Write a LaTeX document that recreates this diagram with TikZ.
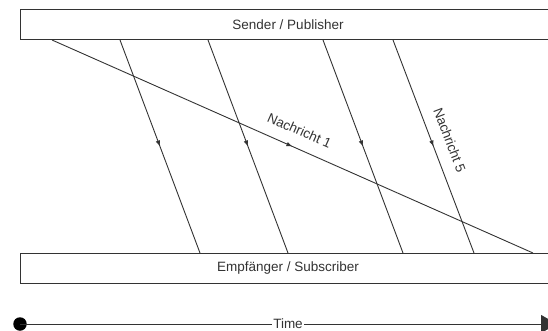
\documentclass[tikz,border=0pt]{standalone}
\usepackage{fontspec}
\setmainfont{Liberation Sans}
\usetikzlibrary{arrows.meta,decorations.markings}

\definecolor{ink}{HTML}{333333}

\tikzset{
  lane/.style={draw=ink, line width=1pt, fill=white, inner sep=0pt},
  msg/.style={draw=ink, line width=0.9pt,
    postaction={decorate},
    decoration={markings,
      mark=at position 0.5 with {\arrow[ink]{Latex[length=6pt,width=4.5pt]}}}},
  lbl/.style={text=ink, font=\fontsize{13.5}{16}\selectfont},
  msglbl/.style={lbl, sloped, inner sep=0pt, above=12pt}
}

\begin{document}
\begin{tikzpicture}[x=1pt,y=-1pt]
  \useasboundingbox (0,0) rectangle (548,331);

  % the two parties
  \draw[lane] (20,9.5) rectangle (556,40);
  \node[lbl] (pub) at (288,24.75) {Sender / Publisher};
  \draw[lane] (20,253) rectangle (556,283);
  \node[lbl] (sub) at (288,268) {Empfänger / Subscriber};

  % message end points on the lanes
  \coordinate (a0) at (52,40);   \coordinate (b0) at (533,253);
  \coordinate (a1) at (120,40);  \coordinate (b1) at (200,253);
  \coordinate (a2) at (208,40);  \coordinate (b2) at (288,253);
  \coordinate (a3) at (323,40);  \coordinate (b3) at (403,253);
  \coordinate (a4) at (393,40);  \coordinate (b4) at (474,253);

  % messages
  \draw[msg] (a0) -- (b0) node[msglbl, pos=0.5] (n1) {Nachricht 1};
  \draw[msg] (a1) -- (b1);
  \draw[msg] (a2) -- (b2);
  \draw[msg] (a3) -- (b3);
  \draw[msg] (a4) -- (b4) node[msglbl, pos=0.5] (n5) {Nachricht 5};

  % time axis
  \node[circle, fill=black, minimum size=13.5pt, inner sep=0pt] (t0) at (20,324) {};
  \coordinate (t1) at (557,324);
  \draw[line width=1pt, ink, -{Triangle[length=16pt,width=18pt]}] (t0.center) -- (t1);
  \node[lbl, fill=white, inner sep=1pt] (time) at (288,324) {Time};
\end{tikzpicture}
\end{document}
